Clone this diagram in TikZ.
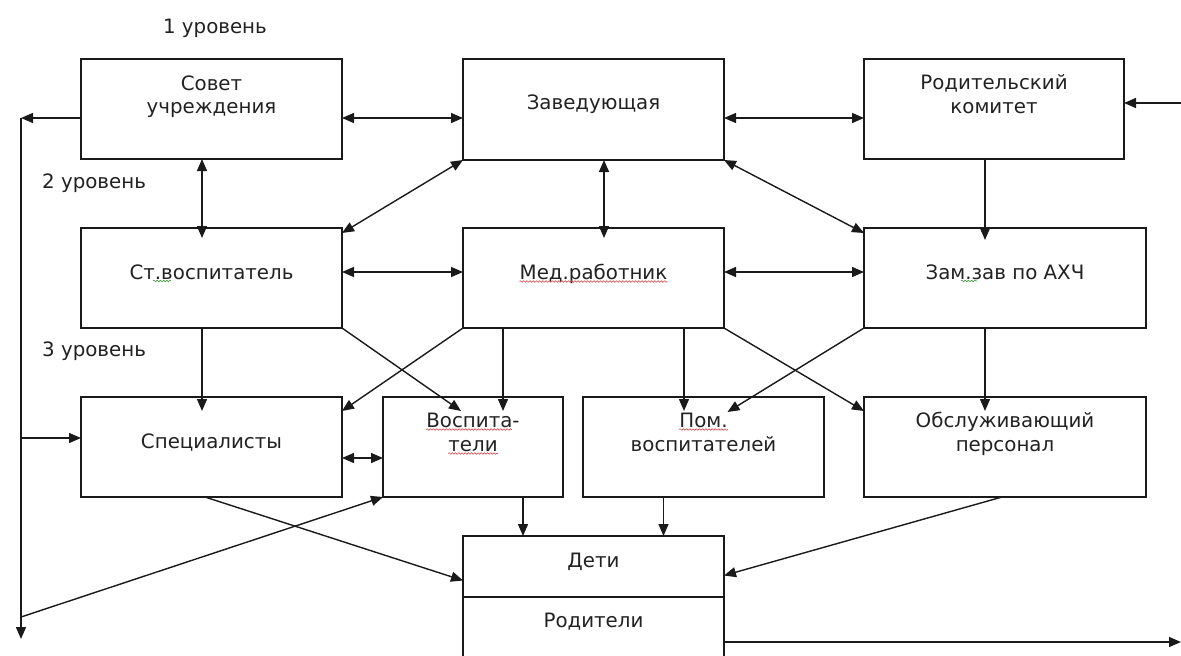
\documentclass[tikz,border=0pt]{standalone}
\usepackage{fontspec}
\setmainfont{DejaVu Sans}
\usetikzlibrary{arrows.meta,decorations.pathmorphing}
\definecolor{linec}{HTML}{1A1A1A}
\definecolor{textc}{HTML}{222222}
\definecolor{sqred}{HTML}{D04848}
\definecolor{sqgreen}{HTML}{3C9A3C}
\begin{document}
\begin{tikzpicture}[x=1pt,y=-1pt,
  box/.style={draw=linec, line width=1.5pt, rectangle, inner sep=0pt, outer sep=0pt},
  txt/.style={anchor=base, inner sep=0pt, font=\fontsize{19.8}{23}\selectfont, text=textc},
  conn/.style={draw=linec, line width=1.4pt},
  arr/.style={conn, -{Triangle[length=12pt,width=10pt]}},
  darr/.style={conn, {Triangle[length=12pt,width=10pt]}-{Triangle[length=12pt,width=10pt]}},
  squig/.style={decorate, decoration={snake, segment length=3.2pt, amplitude=0.8pt}, line width=0.6pt},
]
\clip (0,0) rectangle (1181,656);
\fill[white] (0,0) rectangle (1181,656);

% boxes
\node[box, minimum width=261pt, minimum height=100pt] (sovet) at (211.5,109) {};
\node[box, minimum width=261pt, minimum height=101pt] (zav) at (593.5,109.5) {};
\node[box, minimum width=260pt, minimum height=100pt] (rod) at (994,109) {};
\node[box, minimum width=261pt, minimum height=100pt] (stv) at (211.5,278) {};
\node[box, minimum width=261pt, minimum height=100pt] (med) at (593.5,278) {};
\node[box, minimum width=282pt, minimum height=100pt] (zam) at (1005,278) {};
\node[box, minimum width=261pt, minimum height=100pt] (spec) at (211.5,447) {};
\node[box, minimum width=180pt, minimum height=100pt] (vosp) at (473,447) {};
\node[box, minimum width=241pt, minimum height=100pt] (pom) at (703.5,447) {};
\node[box, minimum width=282pt, minimum height=100pt] (obsl) at (1005,447) {};
\node[box, minimum width=261pt, minimum height=61pt] (deti) at (593.5,566.5) {};
\node[box, minimum width=261pt, minimum height=103pt] (rodit) at (593.5,648.5) {};

% texts
\node[txt] (lev1) at (215,33) {1 уровень};
\node[txt, anchor=base west] (lev2) at (42,188) {2 уровень};
\node[txt, anchor=base west] (lev3) at (42,356) {3 уровень};
\node[txt] (tsov1) at (211.5,90) {Совет};
\node[txt] (tsov2) at (211.5,113) {учреждения};
\node[txt] (tzav) at (593.5,109) {Заведующая};
\node[txt] (trod1) at (994,89) {Родительский};
\node[txt] (trod2) at (994,113) {комитет};
\node[txt] (tstv) at (211.5,279) {Ст.воспитатель};
\node[txt] (tmed) at (593.5,279) {Мед.работник};
\node[txt] (tzam) at (1005,279) {Зам.зав по АХЧ};
\node[txt] (tspec) at (211.5,448) {Специалисты};
\node[txt] (tvos1) at (473,427) {Воспита-};
\node[txt] (tvos2) at (473,451) {тели};
\node[txt] (tpom1) at (703.5,427) {Пом.};
\node[txt] (tpom2) at (703.5,451) {воспитателей};
\node[txt] (tobs1) at (1005,427) {Обслуживающий};
\node[txt] (tobs2) at (1005,451) {персонал};
\node[txt] (tdeti) at (593.5,567) {Дети};
\node[txt] (trodit) at (593.5,627) {Родители};

% spell-check squiggles
\draw[squig, sqred] ([yshift=-2.5pt]tmed.base west) -- ([yshift=-2.5pt]tmed.base east);
\draw[squig, sqred] ([yshift=-2.5pt]tvos1.base west) -- ([xshift=-8pt,yshift=-2.5pt]tvos1.base east);
\draw[squig, sqred] ([yshift=-2.5pt]tvos2.base west) -- ([yshift=-2.5pt]tvos2.base east);
\draw[squig, sqred] ([yshift=-2.5pt]tpom1.base west) -- ([yshift=-2.5pt]tpom1.base east);
\draw[squig, sqgreen] (153,281) -- (171,281);
\draw[squig, sqgreen] (961,281) -- (977,281);

% free-end coordinates
\coordinate (L1) at (21,118);
\coordinate (L2) at (21,438);
\coordinate (L3) at (21,617);
\coordinate (L4) at (21,639);
\coordinate (R1) at (1181,103);
\coordinate (R2) at (1181,642);

% connectors, level 1
\draw[darr] ([shift={(0,9)}]sovet.east) -- ([shift={(0,8.5)}]zav.west);
\draw[darr] ([shift={(0,8.5)}]zav.east) -- ([shift={(0,9)}]rod.west);
\draw[arr] (R1) -- ([shift={(0,-6)}]rod.east);
\draw[arr] ([shift={(0,9)}]sovet.west) -- (L1);
\draw[arr] (L1) -- (L4);
\draw[arr] (L2) -- ([shift={(0,-9)}]spec.west);
\draw[arr] (L3) -- (vosp.south west);

% level 1 -> level 2
\draw[darr] ([shift={(-9.5,0)}]sovet.south) -- ([shift={(-9.5,10)}]stv.north);
\draw[darr] ([shift={(10.5,0)}]zav.south) -- ([shift={(10.5,10)}]med.north);
\draw[darr] (zav.south west) -- ([shift={(0,5)}]stv.north east);
\draw[darr] (zav.south east) -- ([shift={(0,5)}]zam.north west);
\draw[arr] ([shift={(-9,0)}]rod.south) -- ([shift={(-20,12)}]zam.north);

% level 2
\draw[darr] ([shift={(0,-6)}]stv.east) -- ([shift={(0,-6)}]med.west);
\draw[darr] ([shift={(0,-6)}]med.east) -- ([shift={(0,-6)}]zam.west);

% level 2 -> level 3
\draw[arr] ([shift={(-9.5,0)}]stv.south) -- ([shift={(-9.5,14)}]spec.north);
\draw[arr] (stv.south east) -- ([shift={(-12,14)}]vosp.north);
\draw[arr] (med.south west) -- ([shift={(0,14)}]spec.north east);
\draw[arr] ([shift={(-90.5,0)}]med.south) -- ([shift={(30,14)}]vosp.north);
\draw[arr] ([shift={(90.5,0)}]med.south) -- ([shift={(-19.5,14)}]pom.north);
\draw[arr] (med.south east) -- ([shift={(0,14)}]obsl.north west);
\draw[arr] (zam.south west) -- ([shift={(24,15)}]pom.north);
\draw[arr] ([shift={(-20,0)}]zam.south) -- ([shift={(-20,14)}]obsl.north);

% level 3
\draw[darr] ([shift={(0,11)}]spec.east) -- ([shift={(0,11)}]vosp.west);

% level 3 -> children
\draw[arr] ([shift={(-6.5,0)}]spec.south) -- ([shift={(0,14)}]deti.west);
\draw[arr] ([shift={(50,0)}]vosp.south) -- ([shift={(-70.5,0)}]deti.north);
\draw[arr] ([shift={(-40,0)}]pom.south) -- ([shift={(70,0)}]deti.north);
\draw[arr] ([shift={(-3,0)}]obsl.south) -- ([shift={(0,9)}]deti.east);
\draw[arr] ([shift={(0,-6.5)}]rodit.east) -- (R2);
\end{tikzpicture}
\end{document}
